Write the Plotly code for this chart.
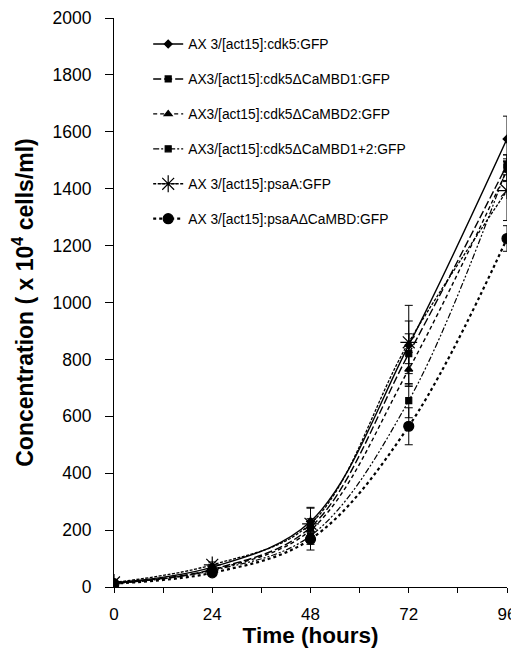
import plotly.graph_objects as go

hours = [0, 24, 48, 72, 96]

names = [
    "AX 3/[act15]:cdk5:GFP",
    "AX3/[act15]:cdk5ΔCaMBD1:GFP",
    "AX3/[act15]:cdk5ΔCaMBD2:GFP",
    "AX3/[act15]:cdk5ΔCaMBD1+2:GFP",
    "AX 3/[act15]:psaA:GFP",
    "AX 3/[act15]:psaAΔCaMBD:GFP",
]

cdk5 = [15, 70, 230, 850, 1575]
cdk5_d1 = [14, 62, 210, 820, 1484]
cdk5_d2 = [13, 60, 200, 765, 1465]
cdk5_d12 = [12, 58, 180, 655, 1474]
psaA = [16, 78, 222, 860, 1393]
psaA_d = [12, 50, 168, 565, 1225]

err_cdk5 = [5, 10, 50, 140, 80]
err_d1 = [4, 8, 30, 70, 35]
err_d2 = [4, 8, 30, 60, 40]
err_d12 = [4, 8, 30, 60, 45]
err_psaA = [5, 10, 55, 75, 105]
err_psaA_d = [4, 8, 38, 65, 45]

series = [cdk5, cdk5_d1, cdk5_d2, cdk5_d12, psaA, psaA_d]
errors = [err_cdk5, err_d1, err_d2, err_d12, err_psaA, err_psaA_d]

styles = [
    dict(dash="solid", width=1.4, symbol="diamond", size=6),
    dict(dash="8px,3px", width=1.4, symbol="square", size=6),
    dict(dash="4px,3px", width=1.4, symbol="triangle-up", size=7),
    dict(dash="6px,2px,2px,2px,2px,2px", width=1.2, symbol="square", size=6),
    dict(dash="3px,1.5px", width=1.3, symbol="asterisk-open", size=14),
    dict(dash="dot", width=2.2, symbol="circle", size=10),
]

fig = go.Figure()
for name, ys, err, st in zip(names, series, errors, styles):
    fig.add_trace(go.Scatter(
        x=hours, y=ys, name=name, mode="lines+markers",
        legendgroup=name,
        line=dict(color="black", width=st["width"], dash=st["dash"], shape="spline", smoothing=1.0),
        marker=dict(symbol=st["symbol"], size=st["size"], color="black",
                    line=dict(color="black", width=1.2)),
        error_y=dict(type="data", array=err, visible=True, color="black", thickness=1, width=4),
    ))

fig.update_layout(
    width=511, height=640,
    margin=dict(l=106, r=12, t=10, b=61, autoexpand=False),
    plot_bgcolor="white", paper_bgcolor="white",
    font=dict(family="Liberation Sans, Arial, sans-serif", color="black"),
    showlegend=True,
    legend=dict(x=0.087, y=0.9815, xanchor="left", yanchor="top",
                font=dict(size=13.8, color="black"), bgcolor="rgba(0,0,0,0)",
                tracegroupgap=14, itemwidth=30),
    xaxis=dict(
        range=[0, 96], tickvals=[0, 24, 48, 72, 96], ticks="outside", ticklen=5,
        tickcolor="black", showline=True, linecolor="black", linewidth=1,
        showgrid=False, zeroline=False, tickfont=dict(size=17), ticklabelstandoff=7,
        ticklabeloverflow="allow", automargin=False,
        minor=dict(tickvals=[12, 36, 60, 84], ticks="outside", ticklen=5, tickcolor="black"),
        title=dict(text="<b>Time (hours)</b>", font=dict(size=22.5), standoff=19),
    ),
    yaxis=dict(
        range=[0, 2000], tickvals=list(range(0, 2001, 200)), ticks="outside", ticklen=8,
        tickcolor="black", showline=True, linecolor="black", linewidth=1,
        showgrid=False, zeroline=False, tickfont=dict(size=17.5), ticklabelstandoff=10,
        ticklabeloverflow="allow", automargin=False,
        title=dict(text="<b>Concentration ( x 10<sup>4</sup> cells/ml)</b>", font=dict(size=23), standoff=19),
    ),
)

fig.write_html("out.html")
